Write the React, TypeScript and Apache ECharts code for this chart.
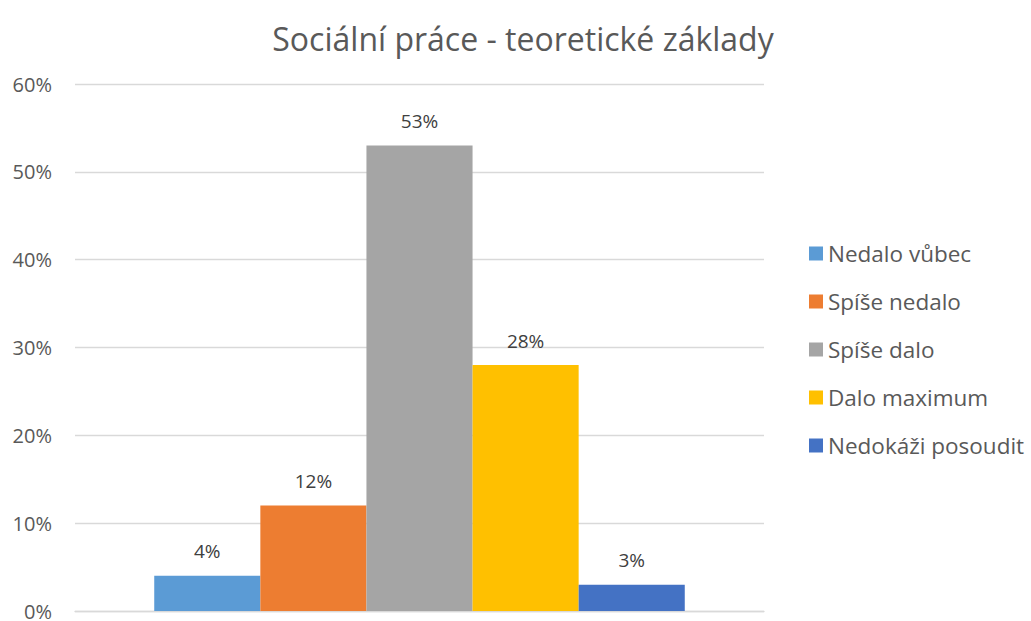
import React, { useEffect, useRef } from "react";
import * as echarts from "echarts";

const titleText = "Sociální práce - teoretické základy";
const category = ["Sociální práce - teoretické základy"];
const seriesNames = ["Nedalo vůbec", "Spíše nedalo", "Spíše dalo", "Dalo maximum", "Nedokáži posoudit"];
const seriesValues = [4, 12, 53, 28, 3];
const seriesColors = ["#5B9BD5", "#ED7D31", "#A5A5A5", "#FFC000", "#4472C4"];
const yTicks = { min: 0, max: 60, interval: 10 };

const FONT = "'Open Sans', 'Noto Sans', sans-serif";

export default function App() {
  const ref = useRef<HTMLDivElement>(null);
  useEffect(() => {
    if (!ref.current) return;
    const chart = echarts.init(ref.current, null, { renderer: "svg" });
    chart.setOption({
      animation: false,
      backgroundColor: "#ffffff",
      title: {
        text: titleText,
        left: 518,
        textAlign: "center",
        top: 17,
        textStyle: { fontFamily: FONT, fontSize: 32, fontWeight: "normal", color: "#595959" },
      },
      grid: { left: 75, right: 267, top: 84, bottom: 6, containLabel: false },
      legend: {
        orient: "vertical",
        left: 804,
        top: 237,
        itemWidth: 14,
        itemHeight: 14,
        itemGap: 25,
        icon: "rect",
        textStyle: { fontFamily: FONT, fontSize: 22.5, color: "#595959", lineHeight: 20, padding: [0, 0, 0, 0] },
        data: seriesNames,
      },
      xAxis: {
        type: "category",
        data: category,
        axisLine: { lineStyle: { color: "#D9D9D9", width: 1.3 } },
        axisTick: { show: false },
        axisLabel: { show: false },
      },
      yAxis: {
        type: "value",
        min: yTicks.min,
        max: yTicks.max,
        interval: yTicks.interval,
        axisLine: { show: false },
        axisTick: { show: false },
        splitLine: { lineStyle: { color: "#D9D9D9", width: 1.3 } },
        axisLabel: {
          formatter: (v: number) => v + "%",
          fontFamily: FONT,
          fontSize: 20,
          color: "#595959",
          margin: 23,
        },
      },
      series: seriesNames.map((name, i) => ({
        name,
        type: "bar",
        data: [seriesValues[i]],
        itemStyle: { color: seriesColors[i] },
        barGap: "0%",
        barCategoryGap: "23%",
        label: {
          show: true,
          position: "top",
          distance: 15,
          formatter: (p: any) => p.value + "%",
          fontFamily: FONT,
          fontSize: 19,
          color: "#404040",
        },
      })),
    });
    return () => chart.dispose();
  }, []);
  return (
    <div
      ref={ref}
      style={{ position: "fixed", left: 0, top: 0, width: 1031, height: 621 }}
    />
  );
}
